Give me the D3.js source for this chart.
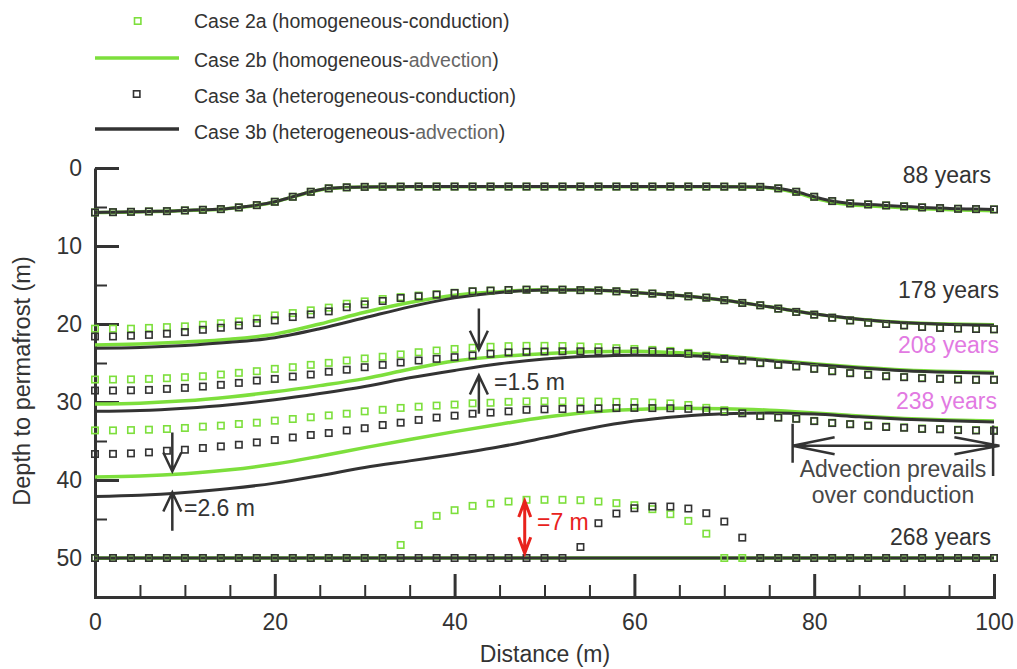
<!DOCTYPE html>
<html lang="en">
<head>
<meta charset="utf-8">
<script src="https://d3js.org/d3.v7.min.js"></script>
<style>
    body { margin: 0; background: #fff; }
    svg { display: block; font-family: "Liberation Sans", Arial, sans-serif; }
    .axis path, .axis line { stroke: #333; }
    .axis text { font-size: 23px; fill: #333; font-family: "Liberation Sans", Arial, sans-serif; }
</style>
</head>
<body>
<svg></svg>
<script>
    // distance grids (m)
    const dist2m = [0, 2, 4, 6, 8, 10, 12, 14, 16, 18, 20, 22, 24, 26, 28, 30, 32, 34, 36, 38, 40, 42, 44, 46, 48, 50,
        52, 54, 56, 58, 60, 62, 64, 66, 68, 70, 72, 74, 76, 78, 80, 82, 84, 86, 88, 90, 92, 94, 96, 98, 100];
    const dist5m = [0, 5, 10, 15, 20, 25, 30, 35, 40, 45, 50, 55, 60, 65, 70, 75, 80, 85, 90, 95, 100];

    const yearLabels = ['88 years', '178 years', '208 years', '238 years', '268 years'];

    // Case 2a / 3a (conduction) - markers every 2 m, depth in m
    const c3a_88 = [5.70, 5.66, 5.62, 5.57, 5.53, 5.44, 5.36, 5.27, 5.05, 4.76, 4.33, 3.69, 3.05, 2.61, 2.48, 2.42,
        2.40, 2.39, 2.38, 2.38, 2.38, 2.38, 2.38, 2.38, 2.38, 2.38, 2.38, 2.38, 2.38, 2.38, 2.38, 2.38, 2.38, 2.38, 2.38, 2.39, 2.40,
        2.42, 2.61, 3.05, 3.69, 4.24, 4.54, 4.67, 4.80, 4.92, 5.05, 5.14, 5.23, 5.27, 5.31];
    const c2a_88 = c3a_88;

    const c2a_178 = [20.6, 20.6, 20.6, 20.5, 20.4, 20.3, 20.1, 19.9, 19.67, 19.32, 18.9, 18.6, 18.25, 17.9, 17.4, 17.1,
        16.8, 16.55, 16.35, 16.18, 16.0, 15.81, 15.72, 15.64, 15.6, 15.6, 15.6, 15.66, 15.7, 15.81, 15.98, 16.1, 16.3,
        16.45, 16.62, 16.95, 17.3, 17.6, 18.03, 18.45, 18.8, 19.19, 19.54, 19.84, 20.0, 20.18, 20.38, 20.5, 20.58, 20.64, 20.68];
    const c3a_178 = [21.6, 21.6, 21.5, 21.4, 21.25, 21.04, 20.74, 20.48, 20.18, 19.88, 19.54, 19.11, 18.77, 18.38, 17.85, 17.48,
        17.05, 16.67, 16.45, 16.24, 16.02, 15.81, 15.72, 15.64, 15.6, 15.6, 15.6, 15.66, 15.7, 15.81, 15.98, 16.1, 16.3,
        16.45, 16.62, 16.95, 17.3, 17.6, 18.03, 18.45, 18.8, 19.19, 19.54, 19.84, 20.0, 20.18, 20.38, 20.5, 20.58, 20.64, 20.68];

    const c2a_208 = [27.12, 27.12, 27.1, 27.04, 26.95, 26.82, 26.7, 26.48, 26.26, 26.05, 25.75, 25.54, 25.24, 24.98, 24.68,
        24.42, 24.2, 23.9, 23.62, 23.4, 23.2, 23.05, 22.92, 22.84, 22.8, 22.8, 22.82, 22.88, 22.97, 23.1, 23.2, 23.32, 23.45,
        23.7, 24.05, 24.4, 24.62, 24.95, 25.18, 25.4, 25.7, 26.0, 26.25, 26.47, 26.65, 26.78, 26.9, 27.0, 27.08, 27.12, 27.12];
    const c3a_208 = [28.53, 28.53, 28.5, 28.45, 28.32, 28.19, 28.02, 27.8, 27.55, 27.25, 27.04, 26.74, 26.48, 26.12, 25.86,
        25.54, 25.24, 24.94, 24.68, 24.47, 24.25, 24.04, 23.82, 23.65, 23.57, 23.52, 23.5, 23.5, 23.5, 23.45, 23.48, 23.52, 23.6,
        23.82, 24.16, 24.47, 24.68, 25.02, 25.24, 25.45, 25.75, 26.06, 26.31, 26.52, 26.7, 26.82, 26.95, 27.04, 27.12, 27.16, 27.16];

    const c2a_238 = [33.64, 33.64, 33.6, 33.55, 33.46, 33.33, 33.16, 33.03, 32.82, 32.65, 32.39, 32.18, 31.96, 31.72, 31.5,
        31.2, 31.0, 30.76, 30.6, 30.46, 30.33, 30.17, 30.1, 29.98, 29.92, 29.9, 29.9, 29.92, 29.95, 29.98, 30.02, 30.08, 30.18,
        30.38, 30.75, 31.05, 31.38, 31.75, 31.96, 32.12, 32.42, 32.66, 32.82, 33.0, 33.15, 33.26, 33.4, 33.46, 33.55, 33.6, 33.62];
    const c3a_238 = [36.67, 36.65, 36.59, 36.46, 36.25, 36.12, 35.9, 35.69, 35.48, 35.18, 34.88, 34.55, 34.23, 33.98, 33.65,
        33.36, 32.95, 32.65, 32.3, 32.0, 31.75, 31.5, 31.36, 31.2, 31.0, 30.94, 30.9, 30.88, 30.82, 30.78, 30.76, 30.78, 30.8,
        30.88, 31.1, 31.25, 31.45, 31.8, 32.0, 32.15, 32.45, 32.7, 32.85, 33.05, 33.2, 33.3, 33.45, 33.5, 33.6, 33.65, 33.7];

    const c2a_268 = [50, 50, 50, 50, 50, 50, 50, 50, 50, 50, 50, 50, 50, 50, 50, 50, 50,
        48.33, 45.76, 44.6, 43.87, 43.32, 43.02, 42.76, 42.54, 42.54, 42.54, 42.59, 42.76, 42.97, 43.23, 43.74, 44.38, 45.24, 46.88,
        50, 50, 50, 50, 50, 50, 50, 50, 50, 50, 50, 50, 50, 50, 50, 50];
    const c3a_268 = [50, 50, 50, 50, 50, 50, 50, 50, 50, 50, 50, 50, 50, 50, 50, 50, 50, 50, 50, 50, 50, 50, 50, 50, 50, 50, 50,
        48.59, 45.54, 44.3, 43.62, 43.4, 43.4, 43.66, 44.26, 45.33, 47.39,
        50, 50, 50, 50, 50, 50, 50, 50, 50, 50, 50, 50, 50, 50];

    // Case 2b / 3b (advection) - lines
    const l3b_88 = c3a_88;
    const l2b_88 = [5.72, 5.68, 5.64, 5.59, 5.55, 5.46, 5.38, 5.29, 5.07, 4.78, 4.35, 3.71, 3.07, 2.63, 2.5, 2.44,
        2.42, 2.41, 2.4, 2.4, 2.4, 2.4, 2.4, 2.4, 2.4, 2.4, 2.4, 2.4, 2.4, 2.4, 2.4, 2.4, 2.4, 2.4, 2.4, 2.41, 2.42,
        2.46, 2.7, 3.18, 3.85, 4.4, 4.7, 4.84, 4.97, 5.09, 5.21, 5.3, 5.38, 5.43, 5.48];

    const l2b_178 = [22.7, 22.55, 22.3, 21.95, 21.3, 20.0, 18.5, 17.25, 16.3, 15.85, 15.6, 15.65, 15.95, 16.35, 16.95, 17.8, 18.7, 19.4, 19.8, 20.0, 20.1];
    const l3b_178 = [23.1, 23.0, 22.75, 22.35, 21.75, 20.6, 19.2, 17.8, 16.65, 15.95, 15.65, 15.65, 15.95, 16.35, 16.95, 17.8, 18.7, 19.4, 19.85, 20.05, 20.15];
    const l2b_208 = [30.25, 30.15, 29.85, 29.35, 28.7, 27.9, 27.0, 25.8, 24.75, 24.15, 23.8, 23.55, 23.5, 23.7, 24.1, 24.6, 25.1, 25.55, 25.9, 26.1, 26.2];
    const l3b_208 = [31.2, 31.1, 30.8, 30.35, 29.7, 28.9, 28.0, 26.9, 25.95, 25.1, 24.5, 24.15, 24.0, 24.05, 24.3, 24.7, 25.2, 25.65, 26.0, 26.2, 26.3];
    const l2b_238 = [39.6, 39.5, 39.2, 38.7, 37.95, 36.95, 35.85, 34.8, 33.8, 32.85, 31.95, 31.3, 30.95, 30.8, 30.85, 31.05, 31.4, 31.8, 32.1, 32.3, 32.45];
    const l3b_238 = [42.1, 41.95, 41.6, 41.1, 40.4, 39.45, 38.4, 37.55, 36.7, 35.75, 34.6, 33.4, 32.45, 31.85, 31.5, 31.4, 31.55, 31.9, 32.2, 32.4, 32.55];
    const l2b_268 = [50, 50, 50, 50, 50, 50, 50, 50, 50, 50, 50, 50, 50, 50, 50, 50, 50, 50, 50, 50, 50];
    const l3b_268 = [50, 50, 50, 50, 50, 50, 50, 50, 50, 50, 50, 50, 50, 50, 50, 50, 50, 50, 50, 50, 50];

    const xMajor = [0, 20, 40, 60, 80, 100];
    const xMinor = [5, 10, 15, 25, 30, 35, 45, 50, 55, 65, 70, 75, 85, 90, 95];
    const yMajor = [0, 10, 20, 30, 40, 50];
    const yMinor = [5, 15, 25, 35, 45];

    const green = '#7ddf3c';
    const dark = '#333333';
    const pink = '#e27ae2';
    const red = '#e8221c';

    const width = 1017;
    const height = 669;
    const svg = d3.select('svg').attr('width', width).attr('height', height);

    const x = d3.scaleLinear().domain([0, 100]).range([95, 994]);
    const y = d3.scaleLinear().domain([0, 55]).range([168, 597]);

    // axes
    const gy = svg.append('g').attr('class', 'axis').attr('transform', 'translate(95,0)')
        .call(d3.axisLeft(y).tickValues(yMajor).tickSize(-24).tickSizeOuter(0).tickPadding(13));
    gy.select('.domain').attr('stroke-width', 3);
    gy.selectAll('.tick line').attr('stroke-width', 3);
    const gyMinor = svg.append('g').attr('class', 'axis').attr('transform', 'translate(95,0)')
        .call(d3.axisLeft(y).tickValues(yMinor).tickSize(-12).tickFormat(''));
    gyMinor.select('.domain').remove();
    gyMinor.selectAll('.tick line').attr('stroke-width', 2);

    const gx = svg.append('g').attr('class', 'axis').attr('transform', 'translate(0,597)')
        .call(d3.axisBottom(x).tickValues(xMajor).tickSize(-23).tickSizeOuter(0).tickPadding(17));
    gx.select('.domain').attr('stroke-width', 3).attr('stroke-linecap', 'square');
    gx.selectAll('.tick line').attr('stroke-width', 3);
    const gxMinor = svg.append('g').attr('class', 'axis').attr('transform', 'translate(0,597)')
        .call(d3.axisBottom(x).tickValues(xMinor).tickSize(-12).tickFormat(''));
    gxMinor.select('.domain').remove();
    gxMinor.selectAll('.tick line').attr('stroke-width', 2);

    svg.append('text').attr('x', 545).attr('y', 662).attr('text-anchor', 'middle')
        .attr('font-size', 23).attr('fill', dark).text('Distance (m)');
    svg.append('text').attr('transform', 'translate(30,381) rotate(-90)').attr('text-anchor', 'middle')
        .attr('font-size', 23.5).attr('fill', dark).text('Depth to permafrost (m)');

    // series
    const lines2b = [l2b_88, l2b_178, l2b_208, l2b_238, l2b_268];
    const lines3b = [l3b_88, l3b_178, l3b_208, l3b_238, l3b_268];
    const marks2a = [c2a_88, c2a_178, c2a_208, c2a_238, c2a_268];
    const marks3a = [c3a_88, c3a_178, c3a_208, c3a_238, c3a_268];

    const lineFor = (vals) => {
        const xs = vals.length === dist2m.length ? dist2m : dist5m;
        return d3.line().x((d, i) => x(xs[i])).y((d) => y(d)).curve(d3.curveMonotoneX)(vals);
    };

    svg.append('g').selectAll('path').data(lines2b).join('path')
        .attr('d', lineFor).attr('fill', 'none').attr('stroke', green).attr('stroke-width', 3.5);
    svg.append('g').selectAll('path').data(lines3b).join('path')
        .attr('d', lineFor).attr('fill', 'none').attr('stroke', dark).attr('stroke-width', 3);

    const drawMarks = (sets, color) => {
        const pts = [];
        sets.forEach((vals) => vals.forEach((v, i) => pts.push({d: dist2m[i], v: v})));
        svg.append('g').selectAll('rect').data(pts).join('rect')
            .attr('x', (p) => x(p.d) - 3.2).attr('y', (p) => y(p.v) - 3.2)
            .attr('width', 6.4).attr('height', 6.4)
            .attr('fill', 'none').attr('stroke', color).attr('stroke-width', 1.6);
    };
    drawMarks(marks2a, green);
    drawMarks(marks3a, dark);

    // year labels
    const yearPos = [[991, 183], [999, 298], [999, 353], [997, 409], [991, 545]];
    const yearColor = [dark, dark, pink, pink, dark];
    svg.append('g').selectAll('text').data(yearLabels).join('text')
        .attr('x', (d, i) => yearPos[i][0]).attr('y', (d, i) => yearPos[i][1])
        .attr('text-anchor', 'end').attr('font-size', 23).attr('fill', (d, i) => yearColor[i])
        .text((d) => d);

    // annotations
    const arrow = (g, xm, from, tip, color, w) => {
        const x0 = x(xm), y0 = y(from), y1 = y(tip);
        const dir = y1 > y0 ? -1 : 1;
        g.append('path')
            .attr('d', `M${x0},${y0}V${y1}M${x0 - 9},${y1 + dir * 19}L${x0},${y1}L${x0 + 9},${y1 + dir * 19}`)
            .attr('fill', 'none').attr('stroke', color).attr('stroke-width', w);
    };
    const ann = svg.append('g');
    arrow(ann, 42.7, 18.0, 23.3, dark, 2.5);
    arrow(ann, 42.7, 31.5, 26.6, dark, 2.5);
    arrow(ann, 8.6, 33.9, 38.9, dark, 2.5);
    arrow(ann, 8.6, 46.5, 41.6, dark, 2.5);

    ann.append('text').attr('x', 494).attr('y', 390).attr('font-size', 23).attr('fill', dark).text('=1.5 m');
    ann.append('text').attr('x', 184).attr('y', 516).attr('font-size', 23).attr('fill', dark).text('=2.6 m');

    // red double arrow
    {
        const xr = x(47.8), yt = y(42.7), yb = y(49.4);
        ann.append('path')
            .attr('d', `M${xr},${yt}V${yb}M${xr - 6},${yt + 16}L${xr},${yt}L${xr + 6},${yt + 16}M${xr - 6},${yb - 16}L${xr},${yb}L${xr + 6},${yb - 16}`)
            .attr('fill', 'none').attr('stroke', red).attr('stroke-width', 3);
        ann.append('text').attr('x', 537).attr('y', 530).attr('font-size', 23).attr('fill', red).text('=7 m');
    }

    // advection prevails bracket
    {
        const xl = x(77.6), xr = x(100.6), ym = y(35.6);
        ann.append('path')
            .attr('d', `M${xl},${y(32.8)}V${y(37.8)}M${x(99.9)},${y(33.0)}V${y(39.5)}` +
                `M${xl},${ym}H${xr}M${xl + 42},${ym - 8.5}L${xl},${ym}L${xl + 42},${ym + 8.5}` +
                `M${xr - 45},${ym - 8.5}L${xr},${ym}L${xr - 45},${ym + 8.5}`)
            .attr('fill', 'none').attr('stroke', dark).attr('stroke-width', 2.5);
        ann.append('text').attr('x', 893).attr('y', 477).attr('text-anchor', 'middle')
            .attr('font-size', 23).attr('fill', '#474747').text('Advection prevails');
        ann.append('text').attr('x', 893).attr('y', 503).attr('text-anchor', 'middle')
            .attr('font-size', 23).attr('fill', '#474747').text('over conduction');
    }

    // legend
    const legendText = [
        ['Case 2a (homogeneous-conduction)', ''],
        ['Case 2b (homogeneous-', 'advection'],
        ['Case 3a (heterogeneous-conduction)', ''],
        ['Case 3b (heterogeneous-', 'advection']
    ];
    const legendY = [21, 58, 94, 129];
    const lg = svg.append('g');
    lg.append('rect').attr('x', 134.5).attr('y', legendY[0] - 3.2).attr('width', 6.4).attr('height', 6.4)
        .attr('fill', 'none').attr('stroke', green).attr('stroke-width', 1.6);
    lg.append('line').attr('x1', 95).attr('x2', 179).attr('y1', legendY[1]).attr('y2', legendY[1])
        .attr('stroke', green).attr('stroke-width', 3.5);
    lg.append('rect').attr('x', 133.5).attr('y', legendY[2] - 3.2).attr('width', 6.4).attr('height', 6.4)
        .attr('fill', 'none').attr('stroke', dark).attr('stroke-width', 1.6);
    lg.append('line').attr('x1', 95).attr('x2', 179).attr('y1', legendY[3]).attr('y2', legendY[3])
        .attr('stroke', dark).attr('stroke-width', 3.5);
    const baselines = [27.5, 66.5, 102.5, 139];
    legendText.forEach((t, i) => {
        const tx = lg.append('text').attr('x', 194).attr('y', baselines[i]).attr('font-size', 19.5).attr('fill', dark);
        tx.append('tspan').text(t[0]);
        if (t[1]) {
            tx.append('tspan').attr('fill', '#666').text(t[1]);
            tx.append('tspan').text(')');
        }
    });
</script>
</body>
</html>
